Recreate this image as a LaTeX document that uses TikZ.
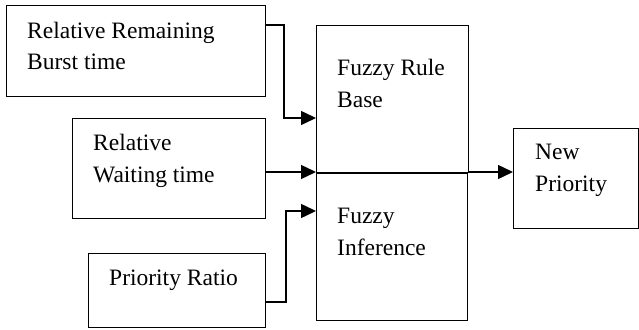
\documentclass[tikz,border=0pt]{standalone}
\usepackage{fontspec}
\setmainfont{Liberation Serif}
\usetikzlibrary{arrows.meta}
\begin{document}
\begin{tikzpicture}[x=1pt,y=-1pt,
  box/.style={draw, line width=1.4pt, inner sep=0pt, anchor=north west},
  lbl/.style={anchor=base west, inner sep=0pt, align=left, font=\fontsize{23.5}{32}\selectfont},
  conn/.style={line width=1.4pt, -{Triangle[length=15pt,width=14pt]}}]
\useasboundingbox (0,0) rectangle (639,329);
% boxes
\node[box, minimum width=259pt, minimum height=91pt] (rrbt) at (6,5) {};
\node[box, minimum width=193pt, minimum height=100pt] (rw) at (72,118) {};
\node[box, minimum width=177pt, minimum height=74pt] (pr) at (88,253) {};
\node[box, minimum width=152pt, minimum height=147pt] (fr) at (316,25) {};
\node[box, minimum width=151pt, minimum height=147pt] (fi) at (316,173) {};
\node[box, minimum width=125pt, minimum height=100pt] (np) at (513,128) {};
% labels (anchored at the baseline of the last line)
\node[lbl] (t1) at (27,70) {Relative Remaining\\Burst time};
\node[lbl] (t2) at (93,182.5) {Relative\\Waiting time};
\node[lbl] (t3) at (109,285) {Priority Ratio};
\node[lbl] (t4) at (337,107.5) {Fuzzy Rule\\Base};
\node[lbl] (t5) at (337,255.5) {Fuzzy\\Inference};
\node[lbl] (t6) at (535,191.5) {New\\Priority};
% bend points
\coordinate (k1) at (284,25);
\coordinate (k2) at (284,118);
\coordinate (k4) at (286,302);
\coordinate (k5) at (286,211);
\coordinate (j) at (316,172);
\coordinate (jr) at (468,172);
% connectors
\draw[conn] (rrbt.east |- k1) -- (k1) -- (k2) -- (fr.west |- k2);
\draw[conn] (rw.east |- j) -- (fr.west |- j);
\draw[conn] (pr.east |- k4) -- (k4) -- (k5) -- (fi.west |- k5);
\draw[conn] (jr) -- (np.west |- jr);
\end{tikzpicture}
\end{document}
